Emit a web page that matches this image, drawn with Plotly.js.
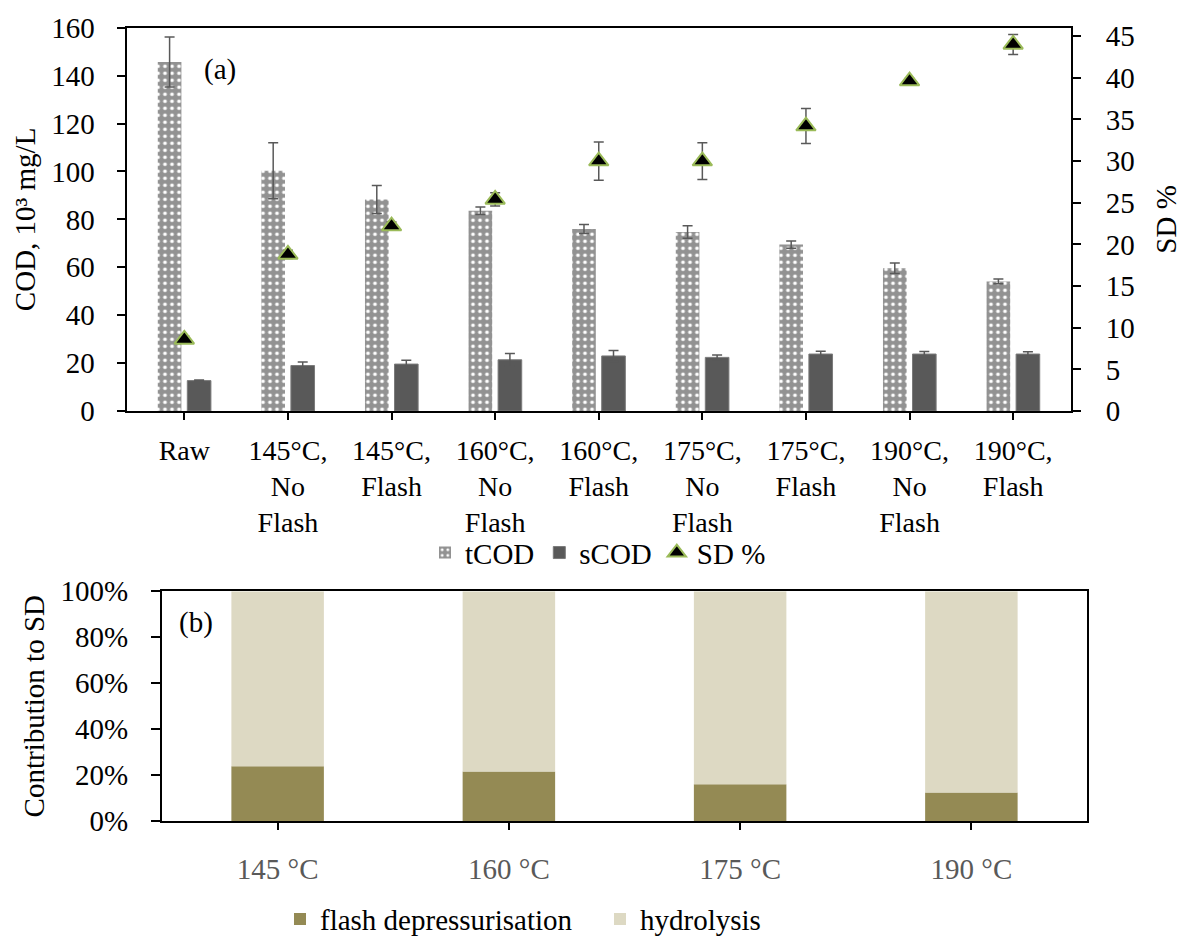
<!DOCTYPE html>
<html>
<head>
<meta charset="utf-8">
<script src="https://cdn.plot.ly/plotly-3.0.1.min.js"></script>
<style>
  html, body { margin: 0; padding: 0; background: #ffffff; }
  #chart { width: 1182px; height: 945px; }
</style>
</head>
<body>
<div id="chart"></div>
<script>
// (a) COD of raw and treated sludge, with solubilisation degree (SD %)
const treatments = [
  'Raw',
  '145°C,<br>No<br>Flash', '145°C,<br>Flash',
  '160°C,<br>No<br>Flash', '160°C,<br>Flash',
  '175°C,<br>No<br>Flash', '175°C,<br>Flash',
  '190°C,<br>No<br>Flash', '190°C,<br>Flash'
];
const tCOD     = [145.7, 100.3, 88.3, 83.6, 76.0, 74.7, 69.5, 59.6, 54.1];
const tCODErr  = [10.4, 11.7, 5.8, 1.6, 1.9, 2.6, 1.5, 2.2, 1.0];
const sCOD     = [12.7, 19.0, 19.6, 21.4, 23.0, 22.4, 23.8, 23.8, 23.8];
const sCODErr  = [0.3, 1.5, 1.6, 2.6, 2.3, 1.0, 1.2, 1.1, 1.0];
const sdPct    = [8.6, 18.8, 22.2, 25.4, 30.0, 30.0, 34.2, 39.6, 44.0];
const sdErr    = [0.4, 0.5, 0.5, 0.8, 2.3, 2.2, 2.1, 0.3, 1.2];

// (b) contribution of each mechanism to SD
const temperatures = ['145 °C', '160 °C', '175 °C', '190 °C'];
const flashShare   = [23.9, 21.6, 16.0, 12.5];
const hydroShare   = [76.1, 78.4, 84.0, 87.5];
const shareTicks   = [0, 20, 40, 60, 80, 100];

const FONT = '"Liberation Serif", "Times New Roman", serif';
const W = 1182, H = 945;
const px = v => v / W;          // horizontal pixel -> paper fraction
const py = v => 1 - v / H;      // vertical pixel (from top) -> paper fraction

const errStyle = arr => ({
  type: 'data', array: arr, visible: true,
  color: '#595959', thickness: 1.5, width: 5
});

const traces = [
  {
    type: 'bar', name: 'tCOD', x: treatments, y: tCOD,
    xaxis: 'x', yaxis: 'y', legend: 'legend',
    marker: {
      color: '#929292',
      pattern: { shape: '.', fgcolor: '#ffffff', bgcolor: '#929292', size: 7, solidity: 0.22 }
    },
    error_y: errStyle(tCODErr)
  },
  {
    type: 'bar', name: 'sCOD', x: treatments, y: sCOD,
    xaxis: 'x', yaxis: 'y', legend: 'legend',
    marker: { color: '#595959', line: { color: '#7a7a7a', width: 1 } },
    error_y: errStyle(sCODErr)
  },
  {
    type: 'scatter', mode: 'markers', name: 'SD %', x: treatments, y: sdPct,
    xaxis: 'x', yaxis: 'y2', legend: 'legend',
    marker: { symbol: 'triangle-up', size: 17, color: '#000000', line: { color: '#9bbb59', width: 2 } },
    error_y: errStyle(sdErr)
  },
  {
    type: 'bar', name: 'flash depressurisation', x: temperatures, y: flashShare,
    xaxis: 'x3', yaxis: 'y3', legend: 'legend2',
    offsetgroup: 'share', width: 0.4,
    marker: { color: '#948a54' }
  },
  {
    type: 'bar', name: 'hydrolysis', x: temperatures, y: hydroShare, base: flashShare,
    xaxis: 'x3', yaxis: 'y3', legend: 'legend2',
    offsetgroup: 'share', width: 0.4,
    marker: { color: '#ddd9c3' }
  }
];

const tickFont = { family: FONT, size: 29, color: '#000000' };
const axisBase = {
  showline: true, linecolor: '#000000', linewidth: 2,
  ticks: 'outside', tickcolor: '#000000', tickwidth: 2,
  showgrid: false, zeroline: false, tickfont: tickFont, fixedrange: true
};

const layout = {
  width: W, height: H,
  margin: { l: 0, r: 0, t: 0, b: 0 },
  paper_bgcolor: '#ffffff', plot_bgcolor: '#ffffff',
  font: { family: FONT, size: 29, color: '#000000' },
  barmode: 'group', bargap: 0.43, bargroupgap: 0.2,
  showlegend: true,
  xaxis: Object.assign({}, axisBase, {
    domain: [px(126.5), px(1071)], anchor: 'y', type: 'category',
    mirror: true, ticklen: 7, ticklabelstandoff: 6,
    tickfont: { family: FONT, size: 28, color: '#000000' }
  }),
  yaxis: Object.assign({}, axisBase, {
    domain: [py(415), py(28)], anchor: 'x', range: [0, 160], dtick: 20,
    ticklen: 8, ticklabelstandoff: 16,
    title: { text: 'COD, 10³ mg/L', font: { family: FONT, size: 29 }, standoff: 7 }
  }),
  yaxis2: Object.assign({}, axisBase, {
    overlaying: 'y', side: 'right', anchor: 'x', range: [0, 46],
    tickvals: [0, 5, 10, 15, 20, 25, 30, 35, 40, 45],
    ticklen: 8, ticklabelstandoff: 19,
    title: { text: 'SD %', font: { family: FONT, size: 29 }, standoff: 27 }
  }),
  xaxis3: Object.assign({}, axisBase, {
    domain: [px(162), px(1087)], anchor: 'y3', type: 'category',
    mirror: true, ticklen: 7, ticklabelstandoff: 14,
    tickfont: { family: FONT, size: 29, color: '#595959' }
  }),
  yaxis3: Object.assign({}, axisBase, {
    domain: [py(829), py(597)], anchor: 'x3', range: [0, 100],
    tickvals: shareTicks, ticktext: shareTicks.map(v => v + '%'),
    mirror: true, ticklen: 9, ticklabelstandoff: 17,
    title: { text: 'Contribution to SD', font: { family: FONT, size: 29 }, standoff: 7 }
  }),
  legend: {
    orientation: 'h', x: px(598), xanchor: 'center', y: py(558), yanchor: 'middle',
    font: { family: FONT, size: 29 }, bgcolor: 'rgba(0,0,0,0)', itemwidth: 30
  },
  legend2: {
    orientation: 'h', x: px(280), xanchor: 'left', y: py(928), yanchor: 'middle',
    font: { family: FONT, size: 29 }, bgcolor: 'rgba(0,0,0,0)', itemwidth: 30,
    entrywidth: 275
  },
  annotations: [
    { text: '(a)', xref: 'paper', yref: 'paper', x: px(220), y: py(70),
      xanchor: 'center', yanchor: 'middle',
      showarrow: false, font: { family: FONT, size: 29 } },
    { text: '(b)', xref: 'paper', yref: 'paper', x: px(196), y: py(628),
      xanchor: 'center', yanchor: 'middle',
      showarrow: false, font: { family: FONT, size: 29 } }
  ]
};

Plotly.newPlot('chart', traces, layout, { displayModeBar: false, staticPlot: true });
</script>
</body>
</html>
